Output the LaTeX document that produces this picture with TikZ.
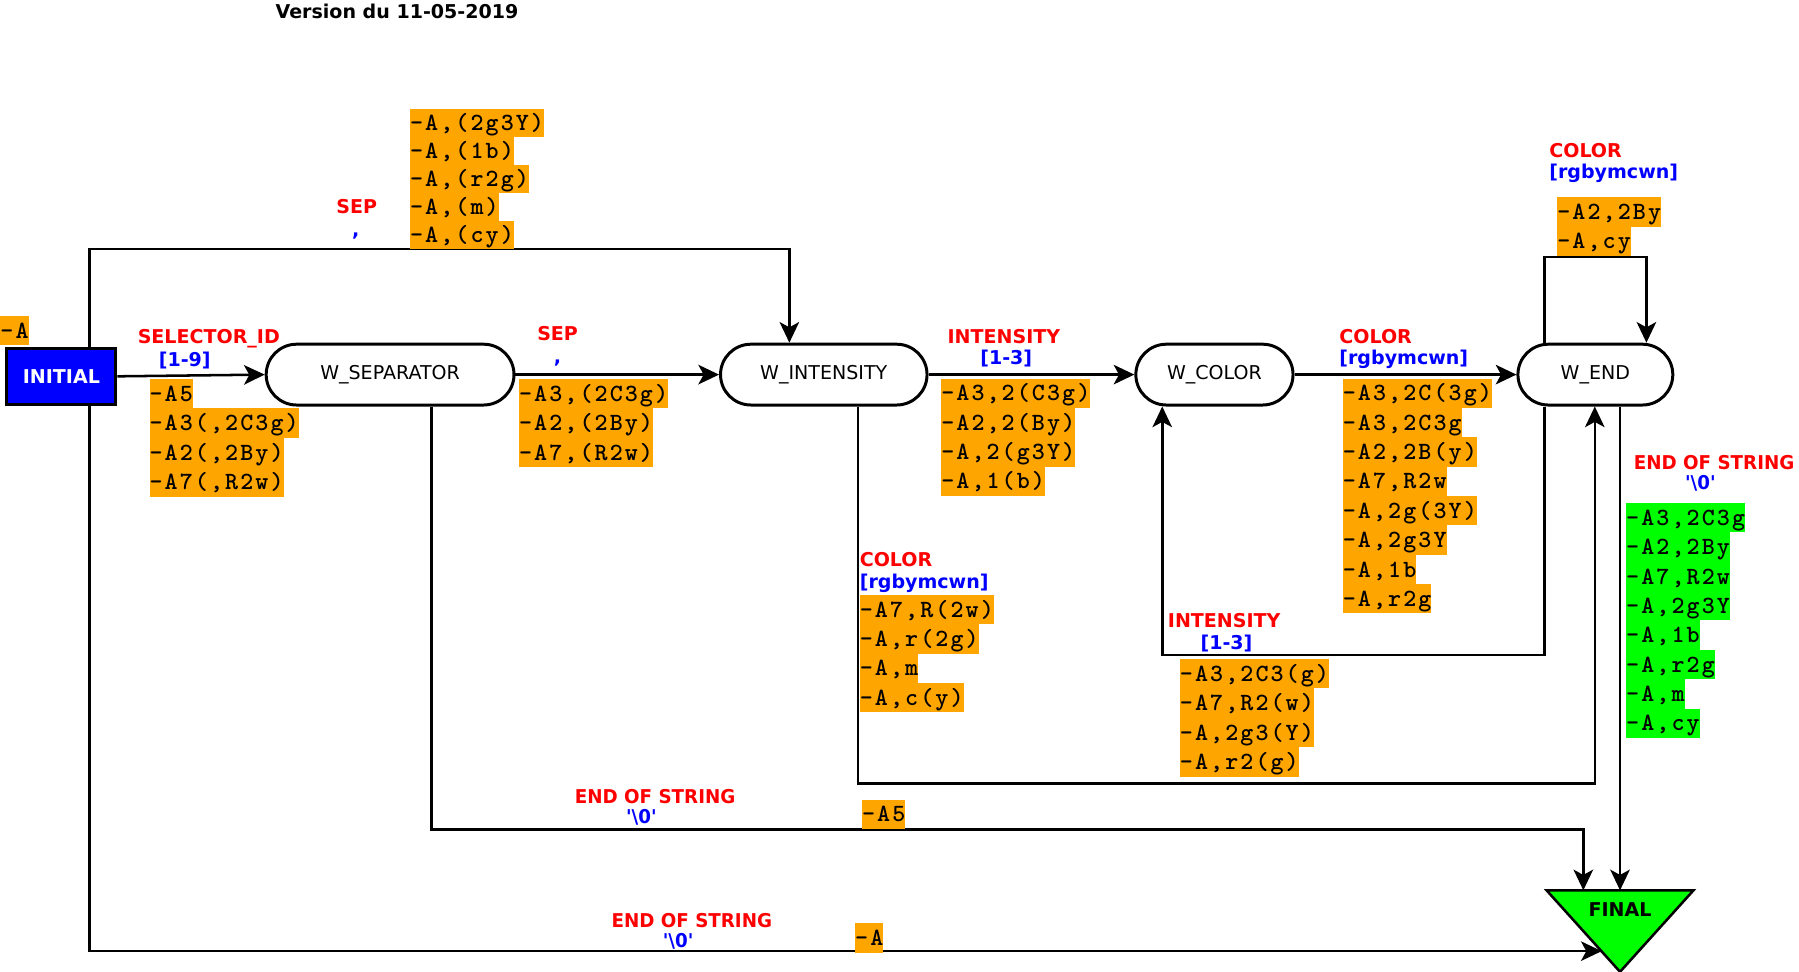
\documentclass[tikz,border=0pt]{standalone}
\usepackage{fontspec}
\usepackage{graphicx}
\usetikzlibrary{arrows.meta,calc}
\newfontfamily\dv{DejaVu Sans}
\newfontfamily\monof[LetterSpace=8.5]{lmmonolt10-bold.otf}
\definecolor{orng}{RGB}{255,165,0}
\definecolor{grn}{RGB}{0,255,0}
\definecolor{rd}{RGB}{255,0,0}
\definecolor{bl}{RGB}{0,0,255}
\setlength{\fboxsep}{0pt}
\newcommand{\oline}[1]{\colorbox{orng}{\rule[-3.1pt]{0pt}{12.8pt}#1}}
\newcommand{\gline}[1]{\colorbox{grn}{\rule[-3.1pt]{0pt}{12.8pt}#1}}
\newcommand{\tline}[1]{\colorbox{orng}{\rule[-2.8pt]{0pt}{12.15pt}#1}}
\newcommand{\cnd}[1]{\scalebox{0.96}[1]{#1}}
\newcommand{\nul}{\textquotesingle\textbackslash 0\textquotesingle}
\begin{document}
\begin{tikzpicture}[x=0.5pt,y=-0.5pt,
  state/.style={draw, line width=1.3pt, rounded corners=13.25pt, minimum height=26.5pt,
    inner sep=0pt, font=\dv\fontsize{8.3}{10}\selectfont},
  lab/.style={inner sep=0pt, font=\dv\bfseries\fontsize{8.3}{10}\selectfont},
  rlab/.style={lab, text=rd},
  blab/.style={lab, text=bl},
  list/.style={anchor=north west, inner sep=0pt, align=left,
    font=\monof\fontsize{10.8}{12.8}\selectfont},
  tlist/.style={anchor=north west, inner sep=0pt, align=left,
    font=\monof\fontsize{10.8}{12.15}\selectfont},
  conn/.style={line width=1.1pt},
  arr/.style={conn, -{Stealth[length=9pt,width=8.5pt,inset=2.3pt]}}
]
\useasboundingbox (0,0) rectangle (1568,847);

% title
\node[lab, anchor=base] (title) at (346,16) {Version du 11-05-2019};

% states
\node[draw, fill=bl, line width=1.3pt, minimum width=47.5pt, minimum height=24.5pt,
  inner sep=0pt, text=white, font=\dv\bfseries\fontsize{8.3}{10}\selectfont] (INITIAL) at (53.5,328) {INITIAL};
\node[state, minimum width=108pt] (WSEP) at (340,326.5) {W\_SEPARATOR};
\node[state, minimum width=90pt] (WINT) at (718,326.5) {W\_INTENSITY};
\node[state, minimum width=68.5pt] (WCOL) at (1058.5,326.5) {W\_COLOR};
\node[state, minimum width=67.5pt] (WEND) at (1390.5,326.5) {W\_END};

% final triangle
\draw[fill=grn, line width=1.1pt] (1348,776) -- (1476,776) -- (1412,847) -- cycle;
\node[lab, anchor=base] (FINAL) at (1412,799) {FINAL};
\coordinate (f1) at (1380,776);
\coordinate (f2) at (1412,776);
\coordinate (f3) at (1396,829);

% corners
\coordinate (k1) at (78,217);
\coordinate (k2) at (688,217);
\coordinate (k3) at (1346,224);
\coordinate (k4) at (1435,224);
\coordinate (k5) at (1346,571);
\coordinate (k6) at (1013,571);
\coordinate (k7) at (748,683);
\coordinate (k8) at (1390,683);
\coordinate (k9) at (376,723);
\coordinate (k10) at (1380,723);
\coordinate (k11) at (78,829);
\coordinate (k12) at (1412,700);

% connectors
\draw[arr] (INITIAL.north -| k1) -- (k1) -- (k2) -- (WINT.north -| k2);
\draw[arr] (INITIAL.east) -- (WSEP.west);
\draw[arr] (WSEP.east) -- (WINT.west);
\draw[arr] (WINT.east) -- (WCOL.west);
\draw[arr] (WCOL.east) -- (WEND.west);
\draw[arr] (WEND.north -| k3) -- (k3) -- (k4) -- (WEND.north -| k4);
\draw[arr] (WEND.south -| k5) -- (k5) -- (k6) -- (WCOL.south -| k6);
\draw[arr] (WINT.south -| k7) -- (k7) -- (k8) -- (WEND.south -| k8);
\draw[arr] (WSEP.south -| k9) -- (k9) -- (k10) -- (f1);
\draw[arr] (INITIAL.south -| k11) -- (k11) -- (f3);
\draw[arr] (WEND.south -| k12) -- (f2);

% labels
\node[rlab, anchor=base] (l1) at (311,186) {SEP};
\node[blab, anchor=base] (l1b) at (310,206) {,};
\node[rlab, anchor=base] (l2) at (182,299) {SELECTOR\_ID};
\node[blab, anchor=base] (l2b) at (161,319) {[1-9]};
\node[rlab, anchor=base] (l3) at (486,297) {SEP};
\node[blab, anchor=base] (l3b) at (486,317) {,};
\node[rlab, anchor=base] (l4) at (875,299) {INTENSITY};
\node[blab, anchor=base] (l4b) at (877,318) {[1-3]};
\node[rlab, anchor=base west] (l5) at (1167,299) {COLOR};
\node[blab, anchor=base west] (l5b) at (1167,318) {[rgbymcwn]};
\node[rlab, anchor=base west] (l6) at (1350,137) {COLOR};
\node[blab, anchor=base west] (l6b) at (1350,156) {[rgbymcwn]};
\node[rlab, anchor=base west] (l7) at (749,494) {COLOR};
\node[blab, anchor=base west] (l7b) at (749,513) {[rgbymcwn]};
\node[rlab, anchor=base] (l8) at (1067,547) {INTENSITY};
\node[blab, anchor=base] (l8b) at (1069,566) {[1-3]};
\node[rlab, anchor=base] (l9) at (571,700) {\cnd{END OF STRING}};
\node[blab, anchor=base] (l9b) at (559,718) {\cnd{\nul}};
\node[rlab, anchor=base] (l10) at (603,808) {\cnd{END OF STRING}};
\node[blab, anchor=base] (l10b) at (591,826) {\cnd{\nul}};
\node[rlab, anchor=base] (l11) at (1494,409) {\cnd{END OF STRING}};
\node[blab, anchor=base] (l11b) at (1482,427) {\cnd{\nul}};

% action lists
\node[list] (a0) at (0,275) {\oline{-A}};
\node[tlist] (a1) at (357,95) {\tline{-A,(2g3Y)}\\\tline{-A,(1b)}\\\tline{-A,(r2g)}\\\tline{-A,(m)}\\\tline{-A,(cy)}};
\node[list] (a2) at (130,330) {\oline{-A5}\\\oline{-A3(,2C3g)}\\\oline{-A2(,2By)}\\\oline{-A7(,R2w)}};
\node[list] (a3) at (452,330) {\oline{-A3,(2C3g)}\\\oline{-A2,(2By)}\\\oline{-A7,(R2w)}};
\node[list] (a4) at (820,329.5) {\oline{-A3,2(C3g)}\\\oline{-A2,2(By)}\\\oline{-A,2(g3Y)}\\\oline{-A,1(b)}};
\node[list] (a5) at (1170,329.5) {\oline{-A3,2C(3g)}\\\oline{-A3,2C3g}\\\oline{-A2,2B(y)}\\\oline{-A7,R2w}\\\oline{-A,2g(3Y)}\\\oline{-A,2g3Y}\\\oline{-A,1b}\\\oline{-A,r2g}};
\node[list] (a6) at (1357,171.5) {\oline{-A2,2By}\\\oline{-A,cy}};
\node[list] (a7) at (1028,574) {\oline{-A3,2C3(g)}\\\oline{-A7,R2(w)}\\\oline{-A,2g3(Y)}\\\oline{-A,r2(g)}};
\node[list] (a8) at (749,518) {\oline{-A7,R(2w)}\\\oline{-A,r(2g)}\\\oline{-A,m}\\\oline{-A,c(y)}};
\node[list] (a9) at (1417,438) {\gline{-A3,2C3g}\\\gline{-A2,2By}\\\gline{-A7,R2w}\\\gline{-A,2g3Y}\\\gline{-A,1b}\\\gline{-A,r2g}\\\gline{-A,m}\\\gline{-A,cy}};
\node[list] (a10) at (751,696.5) {\oline{-A5}};
\node[list] (a11) at (745,804.5) {\oline{-A}};
\end{tikzpicture}
\end{document}
